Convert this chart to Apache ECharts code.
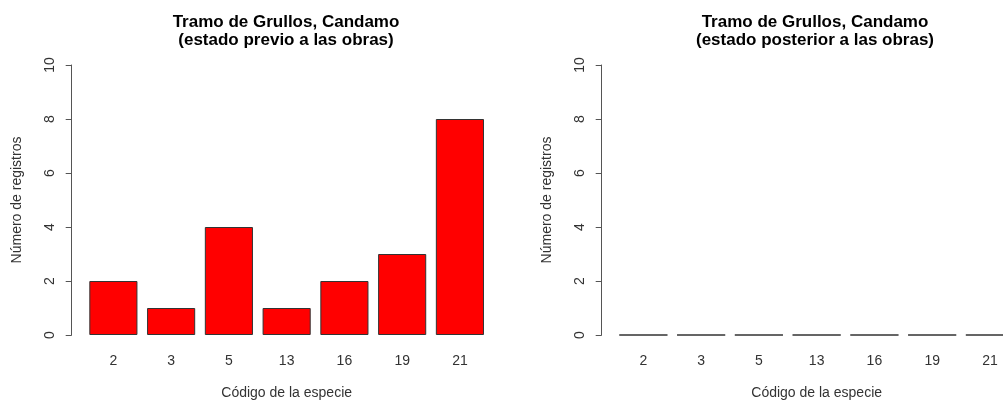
<!DOCTYPE html>
<html><head><meta charset="utf-8">
<script src="https://cdn.jsdelivr.net/npm/echarts@6/dist/echarts.min.js"></script>
<style>html,body{margin:0;padding:0;background:#fff}#c{width:1003px;height:401px}</style>
</head><body><div id="c"></div>
<script>
const categories = ['2', '3', '5', '13', '16', '19', '21'];
const valuesBefore = [2, 1, 4, 1, 2, 3, 8];
const valuesAfter = [0, 0, 0, 0, 0, 0, 0];
const yTicks = [0, 2, 4, 6, 8, 10];
const titleBefore = 'Tramo de Grullos, Candamo\n(estado previo a las obras)';
const titleAfter = 'Tramo de Grullos, Candamo\n(estado posterior a las obras)';
const xName = 'Código de la especie';
const yName = 'Número de registros';

const FONT = '"Liberation Sans", Arial, sans-serif';
const offsets = [0, 530];
const titleCenters = [281, 810];
const gridLeft = 84.5, gridWidth = 404.3, gridTop = 65, gridBottomY = 335;

const chart = echarts.init(document.getElementById('c'), null, {renderer: 'canvas'});
const titles = [titleBefore, titleAfter];
const data = [valuesBefore, valuesAfter];

const option = {
  animation: false,
  backgroundColor: '#fff',
  title: titles.map((t, i) => ({
    text: t,
    left: titleCenters[i],
    top: 8,
    textAlign: 'center',
    textStyle: {fontFamily: FONT, fontSize: 17, fontWeight: 'bold', color: '#000', lineHeight: 18}
  })),
  grid: offsets.map(o => ({
    left: gridLeft + o, width: gridWidth, top: gridTop, height: gridBottomY - gridTop,
    containLabel: false, outerBoundsMode: 'none'
  })),
  xAxis: offsets.map((o, i) => ({
    type: 'category', gridIndex: i, data: categories,
    axisLine: {show: false}, axisTick: {show: false},
    axisLabel: {margin: 19, fontFamily: FONT, fontSize: 14, color: '#333'},
    name: xName, nameLocation: 'middle', nameGap: 51,
    nameTextStyle: {fontFamily: FONT, fontSize: 14, color: '#333'}
  })),
  yAxis: offsets.map((o, i) => ({
    type: 'value', gridIndex: i, min: yTicks[0], max: yTicks[yTicks.length - 1], interval: 2,
    offset: 12.8,
    splitLine: {show: false},
    axisLine: {show: true, lineStyle: {color: '#555', width: 1}},
    axisTick: {show: true, length: 6, lineStyle: {color: '#555'}},
    axisLabel: {rotate: 90, margin: 15, fontFamily: FONT, fontSize: 14, color: '#333'},
    name: yName, nameLocation: 'middle', nameGap: 48, nameRotate: 90,
    nameTextStyle: {fontFamily: FONT, fontSize: 14, color: '#333'}
  })),
  series: data.map((d, i) => ({
    type: 'bar', xAxisIndex: i, yAxisIndex: i, data: d,
    barCategoryGap: '16.67%',
    itemStyle: {color: '#ff0000', borderColor: '#333', borderWidth: 1}
  }))
};
chart.setOption(option);
</script></body></html>
